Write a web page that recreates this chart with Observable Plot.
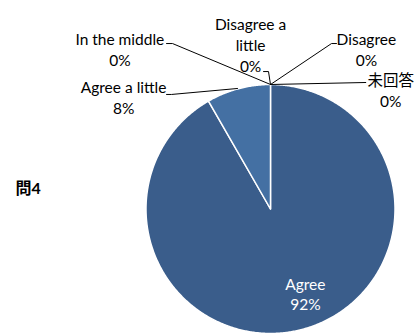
<!DOCTYPE html>
<html>
<head>
<meta charset="utf-8">
<script src="https://cdn.jsdelivr.net/npm/d3@7"></script>
<script src="https://cdn.jsdelivr.net/npm/@observablehq/plot@0.6"></script>
<style>
  html, body { margin: 0; padding: 0; background: #fff; }
  #chart { width: 415px; height: 334px; overflow: hidden; }
</style>
</head>
<body>
<div id="chart"></div>
<script>
// ---- data ----
const categories = ["Agree", "Agree a little", "In the middle", "Disagree a little", "Disagree", "未回答"];
const shares = [91.7, 8.3, 0, 0, 0, 0];
const labelTexts = ["Agree\n92%", "Agree a little\n8%", "In the middle\n0%", "Disagree a\nlittle\n0%", "Disagree\n0%", "未回答\n0%"];
const title = "問4";

// ---- layout (unit coordinates, pie radius = 1) ----
const labelPos = [
  [0.28, -0.68], [-1.18, 0.905], [-1.21, 1.29], [-0.16, 1.32], [0.77, 1.29], [0.965, 0.957]
];
const leaders = [
  null,
  [[-0.835, 0.92], [-0.795, 0.92], [-0.265, 0.968]],
  [[-0.835, 1.329], [-0.787, 1.329], [0, 1]],
  [[-0.056, 1.104], [-0.016, 1.104], [0, 1]],
  [[0.53, 1.329], [0.49, 1.329], [0, 1]],
  [[0.765, 1.016], [0, 1]]
];
const colors = ["#3a5d8b", "#4470a3", "#4e7fb8", "#5a8bc4", "#6b97cc", "#7ba3d3"];

// ---- build slices with d3.pie ----
const arcs = d3.pie().sort(null).value(d => d.v)(categories.map((c, i) => ({c, v: shares[i]})));
const slicePts = [];
arcs.forEach(a => {
  if (a.data.v <= 0) return;
  slicePts.push({c: a.data.c, x: 0, y: 0});
  const n = Math.max(2, Math.ceil((a.endAngle - a.startAngle) / (Math.PI / 360)));
  for (let k = 0; k <= n; k++) {
    const t = a.startAngle + (a.endAngle - a.startAngle) * k / n;
    slicePts.push({c: a.data.c, x: Math.sin(t), y: Math.cos(t)});
  }
  slicePts.push({c: a.data.c, x: 0, y: 0});
});

const leaderPts = [];
leaders.forEach((L, i) => { if (L) L.forEach(p => leaderPts.push({c: categories[i], x: p[0], y: p[1]})); });

const labels = categories.map((c, i) => ({c, t: labelTexts[i], x: labelPos[i][0], y: labelPos[i][1], inside: i === 0}));

const font = "Lato, 'Noto Sans CJK JP', sans-serif";

const chart = Plot.plot({
  width: 415,
  height: 334,
  margin: 0,
  x: {domain: [-1, 1], range: [145.5, 394.5], axis: null},
  y: {domain: [-1, 1], range: [333, 84], axis: null},
  color: {domain: categories, range: colors},
  style: {fontFamily: font, background: "#fff"},
  marks: [
    Plot.line(slicePts, {x: "x", y: "y", z: "c", fill: "c", stroke: "#fff", strokeWidth: 1.5, strokeLinejoin: "round"}),
    Plot.line(leaderPts, {x: "x", y: "y", z: "c", stroke: "#000", strokeWidth: 1}),
    Plot.text(labels.filter(d => !d.inside), {x: "x", y: "y", text: "t", fontSize: 15.5, lineHeight: 1.36, fill: "#000"}),
    Plot.text(labels.filter(d => d.inside), {x: "x", y: "y", text: "t", fontSize: 15.5, lineHeight: 1.25, fill: "#fff"}),
    Plot.text([title], {frameAnchor: "left", dx: 15, dy: 21, text: d => d, fontSize: 16, fontWeight: "bold", textAnchor: "start", fill: "#000"})
  ]
});
document.getElementById("chart").appendChild(chart);
</script>
</body>
</html>
